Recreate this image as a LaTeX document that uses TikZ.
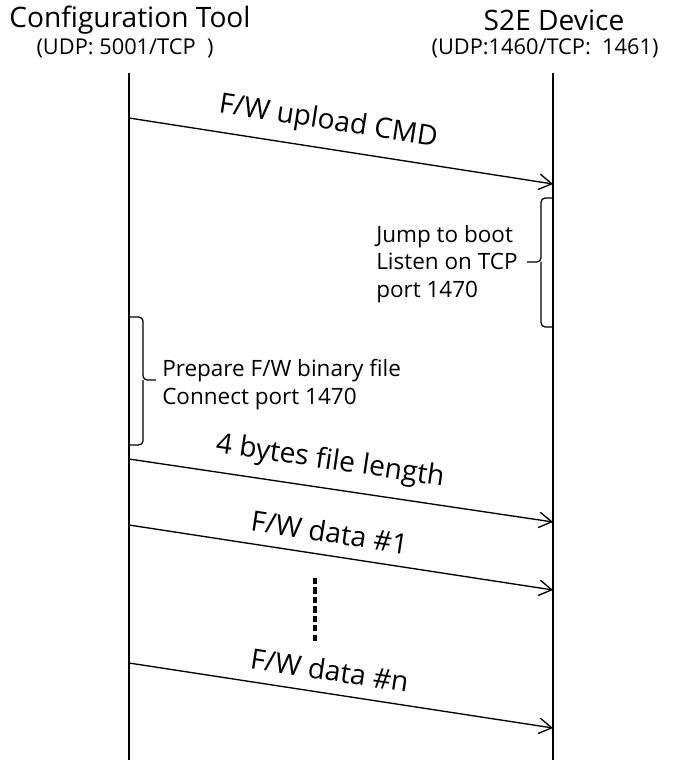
\documentclass[tikz,border=0pt]{standalone}
\usepackage{fontspec}
\setmainfont{Open Sans}
\usetikzlibrary{arrows.meta,positioning}
\tikzset{
  lifeline/.style={line width=1.4pt},
  msg/.style={line width=0.95pt,-{Straight Barb[length=9pt,width=11pt]}},
  msglabel/.style={sloped,above=8.5pt,inner sep=0pt,font=\fontsize{20}{22}\selectfont},
  head/.style={inner sep=0pt,font=\fontsize{20}{22}\selectfont},
  subhead/.style={inner sep=0pt,font=\fontsize{15.5}{18}\selectfont},
  note/.style={align=left,inner sep=0pt,font=\fontsize{16}{19.8}\selectfont},
  bracket/.style={line width=0.9pt,rounded corners=3pt}
}
\begin{document}
\begin{tikzpicture}[x=0.025cm,y=-0.025cm]
\useasboundingbox (0,0) rectangle (676,760);
%
\node[head] (tool) at (130,20) {Configuration Tool};
\node[subhead] (toolport) at (125,48) {(UDP: 5001/TCP\ \ )};
\node[head] (dev) at (554,20) {S2E Device};
\node[subhead] (devport) at (545,48) {(UDP:1460/TCP:\ \ 1461)};
%
\coordinate (ttop) at (129,73);
\coordinate (tbot) at (129,760);
\coordinate (dtop) at (553,73);
\coordinate (dbot) at (553,760);
\draw[lifeline] (ttop) -- (tbot);
\draw[lifeline] (dtop) -- (dbot);
%
\coordinate (t1) at (129,118);
\coordinate (d1) at (553,184);
\coordinate (t2) at (129,459);
\coordinate (d2) at (553,522);
\coordinate (t3) at (129,525);
\coordinate (d3) at (553,590);
\coordinate (t4) at (129,663);
\coordinate (d4) at (553,728);
%
\draw[msg] (t1) -- node[msglabel,pos=0.46] {F/W upload CMD} (d1);
\draw[msg] (t2) -- node[msglabel,pos=0.465] {4 bytes file length} (d2);
\draw[msg] (t3) -- node[msglabel,pos=0.465] {F/W data \#1} (d3);
\draw[msg] (t4) -- node[msglabel,pos=0.465] {F/W data \#n} (d4);
%
\node[note,anchor=west] (jump) at (376,264) {Jump to boot\\Listen on TCP\\port 1470};
\draw[bracket] (553,198) -- (541,198) -- (541,262) -- (527,262);
\draw[bracket] (541,262) -- (541,327) -- (553,327);
%
\node[note,anchor=west] (prep) at (162,385) {Prepare F/W binary file\\Connect port 1470};
\draw[bracket] (129,317) -- (143,317) -- (143,380) -- (156,380);
\draw[bracket] (143,380) -- (143,445) -- (129,445);
%
\coordinate (dotA) at (315,578);
\coordinate (dotB) at (315,643);
\draw[line width=2.8pt,dash pattern=on 4.5pt off 2.2pt] (dotA) -- (dotB);
\end{tikzpicture}
\end{document}
